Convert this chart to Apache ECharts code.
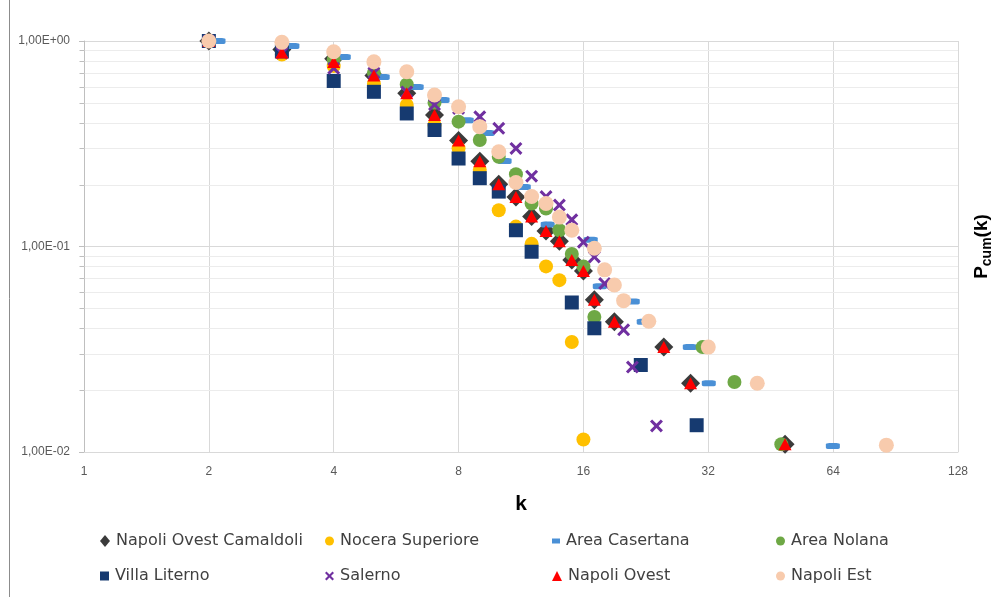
<!DOCTYPE html>
<html>
<head>
<meta charset="utf-8">
<script src="https://cdn.jsdelivr.net/npm/echarts@6/dist/echarts.min.js"></script>
<style>
  html, body { margin: 0; padding: 0; background: #ffffff; }
  #chart { width: 995px; height: 597px; }
</style>
</head>
<body>
<div id="chart"></div>
<script>
// Cumulative degree distribution P_cum(k) of each network, degree k on the x axis
const kCamaldoli = [2, 3, 4, 5, 6, 7, 8, 9, 10, 11, 12, 13, 14, 15, 16, 17, 19, 25, 29, 49];
const pCamaldoli = [1.0, 0.91, 0.82, 0.68, 0.557, 0.436, 0.328, 0.26, 0.201, 0.174, 0.14, 0.119, 0.106, 0.086, 0.076, 0.055, 0.043, 0.0324, 0.0216, 0.0109];

const kNocera = [2, 3, 4, 5, 6, 7, 8, 9, 10, 11, 12, 13, 14, 15, 16];
const pNocera = [1.0, 0.86, 0.755, 0.62, 0.488, 0.39, 0.30, 0.236, 0.150, 0.125, 0.103, 0.080, 0.0686, 0.0343, 0.0115];

const kCasertana = [2.11, 3.18, 4.23, 5.25, 6.34, 7.32, 8.37, 9.40, 10.33, 11.49, 13.12, 16.66, 17.52, 21.04, 22.36, 28.88, 32.09, 63.9];
const pCasertana = [1.0, 0.945, 0.836, 0.668, 0.597, 0.516, 0.411, 0.357, 0.261, 0.195, 0.128, 0.108, 0.064, 0.054, 0.043, 0.0324, 0.0216, 0.0107];

const kNolana = [2, 3, 4, 5, 6, 7, 8, 9, 10, 11, 12, 13, 14, 15, 16, 17, 31, 37, 48];
const pNolana = [1.0, 0.90, 0.81, 0.70, 0.615, 0.50, 0.405, 0.330, 0.273, 0.225, 0.162, 0.153, 0.120, 0.092, 0.080, 0.0454, 0.0324, 0.0219, 0.0109];

const kLiterno = [2, 3, 4, 5, 6, 7, 8, 9, 10, 11, 12, 15, 17, 22, 30];
const pLiterno = [1.0, 0.89, 0.639, 0.566, 0.444, 0.369, 0.268, 0.215, 0.185, 0.120, 0.0943, 0.0534, 0.040, 0.0265, 0.0135];

const kSalerno = [2, 3, 4, 5, 6, 7, 8, 9, 10, 11, 12, 13, 14, 15, 16, 17, 18, 20, 21, 24];
const pSalerno = [1.0, 0.875, 0.736, 0.70, 0.565, 0.49, 0.47, 0.428, 0.376, 0.300, 0.220, 0.175, 0.159, 0.135, 0.105, 0.089, 0.066, 0.0393, 0.0259, 0.0134];

const kOvest = [2, 3, 4, 5, 6, 7, 8, 9, 10, 11, 12, 13, 14, 15, 16, 17, 19, 25, 29, 49];
const pOvest = [1.0, 0.88, 0.79, 0.68, 0.557, 0.436, 0.328, 0.26, 0.201, 0.174, 0.14, 0.119, 0.106, 0.086, 0.076, 0.055, 0.043, 0.0324, 0.0216, 0.0109];

const kEst = [2, 3, 4, 5, 6, 7, 8, 9, 10, 11, 12, 13, 14, 15, 17, 18, 19, 20, 23, 32, 42, 86];
const pEst = [1.0, 0.985, 0.887, 0.793, 0.709, 0.546, 0.479, 0.383, 0.289, 0.205, 0.175, 0.162, 0.139, 0.120, 0.098, 0.077, 0.065, 0.0545, 0.0433, 0.0324, 0.0216, 0.0108];

const seriesNames = ['Napoli Ovest Camaldoli', 'Nocera Superiore', 'Area Casertana', 'Area Nolana',
                     'Villa Literno', 'Salerno', 'Napoli Ovest', 'Napoli Est'];

// Axis ranges and the 2..9 minor lines of each decade on the P axis
const kRange = [1, 128];
const pRange = [0.01, 1];
const pMinor = [0.02, 0.03, 0.04, 0.05, 0.06, 0.07, 0.08, 0.09, 0.2, 0.3, 0.4, 0.5, 0.6, 0.7, 0.8, 0.9];

const zip = (ks, ps) => ks.map((k, i) => [k, ps[i]]);
const seriesData = {
  'Napoli Ovest Camaldoli': zip(kCamaldoli, pCamaldoli),
  'Nocera Superiore': zip(kNocera, pNocera),
  'Area Casertana': zip(kCasertana, pCasertana),
  'Area Nolana': zip(kNolana, pNolana),
  'Villa Literno': zip(kLiterno, pLiterno),
  'Salerno': zip(kSalerno, pSalerno),
  'Napoli Ovest': zip(kOvest, pOvest),
  'Napoli Est': zip(kEst, pEst)
};

const CROSS = 'path://M2,0 L6,4 L10,0 L12,2 L8,6 L12,10 L10,12 L6,8 L2,12 L0,10 L4,6 L0,2 Z';

const markerStyle = {
  'Napoli Ovest Camaldoli': { symbol: 'diamond', size: [19, 19], color: '#3B3B3B', icon: 'diamond', iw: 10, ih: 12 },
  'Nocera Superiore':       { symbol: 'circle',  size: 14,       color: '#FFC000', icon: 'circle',  iw: 9,  ih: 9 },
  'Area Casertana':         { symbol: 'roundRect', size: [14, 6], color: '#4A90D6', icon: 'rect',   iw: 8,  ih: 5 },
  'Area Nolana':            { symbol: 'circle',  size: 14,       color: '#6EA845', icon: 'circle',  iw: 9,  ih: 9 },
  'Villa Literno':          { symbol: 'rect',    size: 14,       color: '#163A70', icon: 'rect',    iw: 9,  ih: 9 },
  'Salerno':                { symbol: CROSS,     size: 13,       color: '#7030A0', icon: CROSS,     iw: 9,  ih: 9 },
  'Napoli Ovest':           { symbol: 'triangle', size: [13, 12], color: '#FF0000', icon: 'triangle', iw: 10, ih: 10 },
  'Napoli Est':             { symbol: 'circle',  size: 15,       color: '#F8CBAD', icon: 'circle',  iw: 9,  ih: 9 }
};

const FONT = '"Liberation Sans", Arial, sans-serif';
const LEGEND_FONT = '"DejaVu Sans", "Liberation Sans", sans-serif';

// Legend slots: four columns, two rows
const legendCols = [95, 320, 547, 771];
const legendRows = [528, 563];
const legends = seriesNames.map((name, i) => {
  const st = markerStyle[name];
  return {
    left: legendCols[i % 4],
    top: legendRows[Math.floor(i / 4)],
    itemWidth: st.iw,
    itemHeight: st.ih,
    itemGap: 0,
    selectedMode: false,
    textStyle: { fontFamily: LEGEND_FONT, fontSize: 16, color: '#404040', padding: [0, 0, 0, 1] },
    data: [{ name: name, icon: st.icon }]
  };
});

const expLabel = v => {
  const e = Math.round(Math.log10(v));
  return '1,00E' + (e < 0 ? '-' : '+') + String(Math.abs(e)).padStart(2, '0');
};

const scatterSeries = seriesNames.map(name => {
  const st = markerStyle[name];
  return {
    name: name,
    type: 'scatter',
    symbol: st.symbol,
    symbolSize: st.size,
    itemStyle: { color: st.color, opacity: 1 },
    emphasis: { disabled: true },
    data: seriesData[name],
    z: 3
  };
});

// Minor horizontal grid lines and their ticks on the P axis
const minorSeries = {
  type: 'custom',
  silent: true,
  clip: false,
  z: 1,
  data: pMinor.map(v => [kRange[0], v]),
  encode: { x: 0, y: 1 },
  renderItem: (params, api) => {
    const v = api.value(1);
    const a = api.coord([kRange[0], v]);
    const b = api.coord([kRange[1], v]);
    const y = Math.round(a[1]) + 0.5;
    const x0 = Math.round(a[0]) + 0.5;
    return {
      type: 'group',
      children: [
        { type: 'line', shape: { x1: x0, y1: y, x2: b[0], y2: y }, style: { stroke: '#ECECEC', lineWidth: 1 } },
        { type: 'line', shape: { x1: x0 - 5, y1: y, x2: x0, y2: y }, style: { stroke: '#BFBFBF', lineWidth: 1 } }
      ]
    };
  }
};

const chart = echarts.init(document.getElementById('chart'), null, { renderer: 'canvas' });
chart.setOption({
  animation: false,
  backgroundColor: '#ffffff',
  textStyle: { fontFamily: FONT },
  grid: { left: 84, right: 37, top: 41, bottom: 145, containLabel: false, outerBoundsMode: 'none' },
  legend: legends,
  xAxis: {
    type: 'log',
    logBase: 2,
    min: kRange[0],
    max: kRange[1],
    name: 'k',
    nameLocation: 'middle',
    nameGap: 42,
    nameTextStyle: { fontFamily: FONT, fontSize: 21, fontWeight: 'bold', color: '#000000' },
    axisLine: { show: true, lineStyle: { color: '#D9D9D9', width: 1 } },
    axisTick: { show: false },
    axisLabel: { fontFamily: FONT, fontSize: 12, color: '#595959', margin: 14 },
    splitLine: { show: true, lineStyle: { color: '#D9D9D9', width: 1 } }
  },
  yAxis: [
    {
      type: 'log',
      logBase: 10,
      min: pRange[0],
      max: pRange[1],
      axisLine: { show: true, lineStyle: { color: '#BFBFBF', width: 1 } },
      axisTick: { show: true, length: 5, lineStyle: { color: '#BFBFBF' } },
      axisLabel: { fontFamily: FONT, fontSize: 12, color: '#595959', margin: 14, formatter: expLabel },
      splitLine: { show: true, lineStyle: { color: '#D9D9D9', width: 1 } }
    },
    {
      type: 'log',
      logBase: 10,
      min: pRange[0],
      max: pRange[1],
      position: 'right',
      name: '{p|P}{s|cum}{p|(k)}',
      nameLocation: 'middle',
      nameRotate: 90,
      nameGap: 12,
      nameTextStyle: {
        rich: {
          p: { fontFamily: FONT, fontSize: 19, fontWeight: 'bold', color: '#000000', lineHeight: 24, verticalAlign: 'middle' },
          s: { fontFamily: FONT, fontSize: 14, fontWeight: 'bold', color: '#000000', lineHeight: 12, verticalAlign: 'bottom' }
        }
      },
      axisLine: { show: false },
      axisTick: { show: false },
      axisLabel: { show: false },
      splitLine: { show: false }
    }
  ],
  graphic: [
    { type: 'line', silent: true, shape: { x1: 9.5, y1: 0, x2: 9.5, y2: 597 }, style: { stroke: '#8C8C8C', lineWidth: 1 } }
  ],
  series: [minorSeries].concat(scatterSeries)
});
</script>
</body>
</html>
